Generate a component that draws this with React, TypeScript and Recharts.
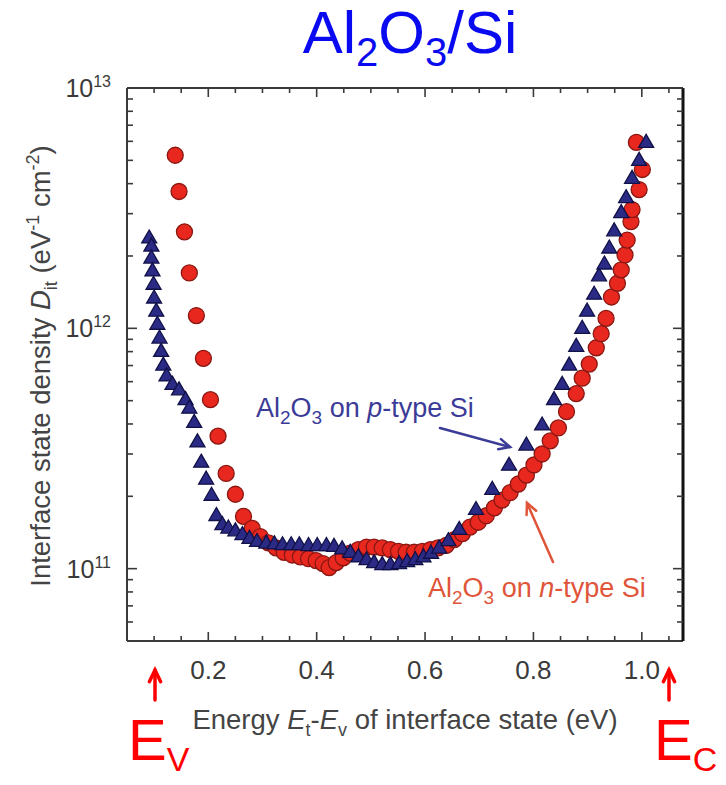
import { ScatterChart, Scatter, XAxis, YAxis } from "recharts";

// Al2O3 on p-type Si (triangles)
const pEnergy = [
  0.091, 0.095, 0.095, 0.097, 0.099, 0.1, 0.104, 0.106, 0.11, 0.113, 0.117, 0.123, 0.134, 0.146,
  0.158, 0.165, 0.174, 0.18, 0.187, 0.196, 0.206, 0.215, 0.226, 0.237, 0.25, 0.263, 0.276, 0.29,
  0.307, 0.322, 0.337, 0.353, 0.368, 0.385, 0.401, 0.418, 0.432, 0.447, 0.462, 0.477, 0.492,
  0.506, 0.521, 0.536, 0.552, 0.567, 0.582, 0.597, 0.611, 0.626, 0.643, 0.663, 0.694, 0.724,
  0.755, 0.787, 0.816, 0.838, 0.853, 0.866, 0.879, 0.89, 0.899, 0.912, 0.921, 0.931, 0.94,
  0.949, 0.962, 0.971, 0.982, 0.995, 1.008,
];
const pDit = [
  2.4e12, 2.22e12, 1.98e12, 1.75e12, 1.54e12, 1.35e12, 1.19e12, 1.05e12, 9.2e11, 8.1e11, 7.1e11,
  6.4e11, 5.9e11, 5.6e11, 5.1e11, 4.7e11, 4.1e11, 3.4e11, 2.8e11, 2.38e11, 2.04e11, 1.68e11,
  1.54e11, 1.49e11, 1.45e11, 1.4e11, 1.35e11, 1.31e11, 1.29e11, 1.28e11, 1.27e11, 1.27e11,
  1.27e11, 1.26e11, 1.26e11, 1.26e11, 1.25e11, 1.22e11, 1.18e11, 1.13e11, 1.1e11, 1.07e11,
  1.05e11, 1.05e11, 1.06e11, 1.08e11, 1.1e11, 1.13e11, 1.17e11, 1.23e11, 1.32e11, 1.47e11,
  1.78e11, 2.16e11, 2.72e11, 3.3e11, 4.0e11, 5.1e11, 5.9e11, 7.1e11, 8.5e11, 1.01e12, 1.19e12,
  1.4e12, 1.67e12, 1.87e12, 2.18e12, 2.57e12, 3.06e12, 3.53e12, 4.25e12, 5.05e12, 6.0e12,
];

// Al2O3 on n-type Si (circles)
const nEnergy = [
  0.139, 0.146, 0.156, 0.165, 0.178, 0.191, 0.204, 0.218, 0.233, 0.25, 0.265, 0.281, 0.296,
  0.311, 0.325, 0.34, 0.355, 0.37, 0.385, 0.399, 0.412, 0.423, 0.436, 0.449, 0.462, 0.477,
  0.492, 0.506, 0.521, 0.536, 0.551, 0.565, 0.58, 0.595, 0.61, 0.624, 0.639, 0.654, 0.669,
  0.683, 0.698, 0.713, 0.728, 0.742, 0.757, 0.772, 0.787, 0.801, 0.816, 0.831, 0.846, 0.861,
  0.879, 0.89, 0.903, 0.916, 0.925, 0.934, 0.944, 0.955, 0.962, 0.969, 0.973, 0.98, 0.982,
  0.995, 1.001, 0.99,
];
const nDit = [
  5.25e12, 3.71e12, 2.52e12, 1.7e12, 1.13e12, 7.5e11, 5.05e11, 3.56e11, 2.49e11, 2.04e11,
  1.65e11, 1.47e11, 1.36e11, 1.28e11, 1.22e11, 1.17e11, 1.14e11, 1.12e11, 1.1e11, 1.08e11,
  1.05e11, 1.01e11, 1.06e11, 1.11e11, 1.16e11, 1.2e11, 1.23e11, 1.23e11, 1.22e11, 1.2e11,
  1.18e11, 1.17e11, 1.17e11, 1.18e11, 1.2e11, 1.22e11, 1.25e11, 1.32e11, 1.4e11, 1.49e11,
  1.56e11, 1.66e11, 1.79e11, 1.93e11, 2.07e11, 2.25e11, 2.45e11, 2.7e11, 3.0e11, 3.4e11,
  3.85e11, 4.5e11, 5.35e11, 6.2e11, 7.1e11, 8.3e11, 9.5e11, 1.1e12, 1.35e12, 1.54e12, 1.75e12,
  2.02e12, 2.33e12, 2.78e12, 3.12e12, 3.78e12, 4.58e12, 5.94e12,
];

const xTicks = [
  0.1, 0.15, 0.2, 0.25, 0.3, 0.35, 0.4, 0.45, 0.5, 0.55, 0.6, 0.65, 0.7, 0.75, 0.8, 0.85, 0.9,
  0.95, 1.0, 1.05,
];
const xLabels = ["0.2", "0.4", "0.6", "0.8", "1.0"];
const yTicks = [
  6e10, 7e10, 8e10, 9e10, 1e11, 2e11, 3e11, 4e11, 5e11, 6e11, 7e11, 8e11, 9e11, 1e12, 2e12, 3e12,
  4e12, 5e12, 6e12, 7e12, 8e12, 9e12, 1e13,
];

const pData = pEnergy.map((x, i) => ({ x, y: pDit[i] }));
const nData = nEnergy.map((x, i) => ({ x, y: nDit[i] }));

const FONT = "'Liberation Sans', Arial, Helvetica, sans-serif";
const FRAME = "#3a3a3a";

const isXMajor = (v: number) => Math.abs(v * 5 - Math.round(v * 5)) < 1e-6;
const isDecade = (v: number) => Math.abs(Math.log10(v) - Math.round(Math.log10(v))) < 1e-6;

function XTick(props: any) {
  const { x, y, payload, side } = props;
  const v = payload.value as number;
  const major = isXMajor(v);
  const len = major ? 9 : 5;
  const dir = side === "bottom" ? -1 : 1;
  const label = xLabels.find((s) => Math.abs(parseFloat(s) - v) < 1e-6);
  return (
    <g>
      <line x1={x} y1={y} x2={x} y2={y + dir * len} stroke={FRAME} strokeWidth={1.6} />
      {side === "bottom" && label && (
        <text x={x} y={y + 38} textAnchor="middle" fontSize={26} fontFamily={FONT} fill="#3a3a3a">
          {label}
        </text>
      )}
    </g>
  );
}

function YTick(props: any) {
  const { x, y, payload, side } = props;
  const v = payload.value as number;
  const major = isDecade(v);
  const len = major ? 10 : 6;
  const dir = side === "left" ? 1 : -1;
  return (
    <g>
      <line x1={x} y1={y} x2={x + dir * len} y2={y} stroke={FRAME} strokeWidth={1.6} />
      {side === "left" && major && (
        <text x={x - 16} y={y + 9} textAnchor="end" fontSize={25} fontFamily={FONT} fill="#3a3a3a">
          10
          <tspan dy={-10} fontSize={16}>
            {Math.round(Math.log10(v))}
          </tspan>
        </text>
      )}
    </g>
  );
}

function Triangle(props: any) {
  const { cx, cy } = props;
  const w = 7.5;
  return (
    <path
      d={`M${cx},${cy - 7} L${cx + w},${cy + 6} L${cx - w},${cy + 6} Z`}
      fill="#2b2b86"
      stroke="#111148"
      strokeWidth={1.3}
    />
  );
}

function Dot(props: any) {
  const { cx, cy } = props;
  return <circle cx={cx} cy={cy} r={8} fill="#e8271f" stroke="#8a1812" strokeWidth={1.3} />;
}

function Arrow({ x1, y1, x2, y2, color, head = 12, width = 2.5 }: any) {
  const a = Math.atan2(y2 - y1, x2 - x1);
  const s = 0.45;
  const hx1 = x2 - head * Math.cos(a - s);
  const hy1 = y2 - head * Math.sin(a - s);
  const hx2 = x2 - head * Math.cos(a + s);
  const hy2 = y2 - head * Math.sin(a + s);
  return (
    <g stroke={color} strokeWidth={width} fill="none" strokeLinecap="round">
      <line x1={x1} y1={y1} x2={x2} y2={y2} />
      <polyline points={`${hx1},${hy1} ${x2},${y2} ${hx2},${hy2}`} />
    </g>
  );
}

function AlLabel({ x, y, color, type }: any) {
  return (
    <text x={x} y={y} fontSize={27} fill={color}>
      Al
      <tspan dy={7} fontSize={19}>2</tspan>
      <tspan dy={-7}>O</tspan>
      <tspan dy={7} fontSize={19}>3</tspan>
      <tspan dy={-7}> on </tspan>
      <tspan fontStyle="italic">{type}</tspan>-type Si
    </text>
  );
}

export default function App() {
  const domainX: [number, number] = [0.05, 1.076];
  const domainY: [number, number] = [5e10, 1e13];
  return (
    <div style={{ position: "absolute", left: 0, top: 0, width: 726, height: 785, background: "#fff" }}>
      <ScatterChart
        width={726}
        height={785}
        margin={{ top: 78, right: 33, bottom: 104, left: 67 }}
      >
        <XAxis
          xAxisId="b"
          type="number"
          dataKey="x"
          domain={domainX}
          allowDataOverflow
          ticks={xTicks}
          interval={0}
          orientation="bottom"
          height={40}
          tickSize={0}
          tickMargin={0}
          tickLine={false}
          axisLine={{ stroke: FRAME, strokeWidth: 2 }}
          tick={(p: any) => <XTick {...p} side="bottom" />}
        />
        <XAxis
          xAxisId="t"
          type="number"
          dataKey="x"
          domain={domainX}
          allowDataOverflow
          ticks={xTicks}
          interval={0}
          orientation="top"
          height={10}
          tickSize={0}
          tickMargin={0}
          tickLine={false}
          axisLine={{ stroke: FRAME, strokeWidth: 2 }}
          tick={(p: any) => <XTick {...p} side="top" />}
        />
        <YAxis
          yAxisId="l"
          type="number"
          dataKey="y"
          scale="log"
          domain={domainY}
          allowDataOverflow
          ticks={yTicks}
          interval={0}
          orientation="left"
          width={60}
          tickSize={0}
          tickMargin={0}
          tickLine={false}
          axisLine={{ stroke: FRAME, strokeWidth: 2 }}
          tick={(p: any) => <YTick {...p} side="left" />}
        />
        <YAxis
          yAxisId="r"
          type="number"
          dataKey="y"
          scale="log"
          domain={domainY}
          allowDataOverflow
          ticks={yTicks}
          interval={0}
          orientation="right"
          width={10}
          tickSize={0}
          tickMargin={0}
          tickLine={false}
          axisLine={{ stroke: "#111", strokeWidth: 3 }}
          tick={(p: any) => <YTick {...p} side="right" />}
        />
        <Scatter
          name="Al2O3 on n-type Si"
          data={nData}
          xAxisId="t"
          yAxisId="r"
          shape={Dot}
          isAnimationActive={false}
        />
        <Scatter
          name="Al2O3 on p-type Si"
          data={pData}
          xAxisId="b"
          yAxisId="l"
          shape={Triangle}
          isAnimationActive={false}
        />
      </ScatterChart>

      <svg
        width={726}
        height={785}
        style={{ position: "absolute", left: 0, top: 0, pointerEvents: "none" }}
        fontFamily={FONT}
      >
        {/* title */}
        <text x={410} y={53} textAnchor="middle" fontSize={60} fill="#0a0af0">
          Al
          <tspan dy={13} fontSize={40}>2</tspan>
          <tspan dy={-13}>O</tspan>
          <tspan dy={13} fontSize={40}>3</tspan>
          <tspan dy={-13}>/Si</tspan>
        </text>

        {/* y axis title */}
        <text
          x={50}
          y={366}
          transform="rotate(-90, 50, 366)"
          textAnchor="middle"
          fontSize={27.5}
          fill="#444"
        >
          Interface state density <tspan fontStyle="italic">D</tspan>
          <tspan dy={7} fontSize={18}>it</tspan>
          <tspan dy={-7}> (eV</tspan>
          <tspan dy={-11} fontSize={18}>-1</tspan>
          <tspan dy={11}> cm</tspan>
          <tspan dy={-11} fontSize={18}>-2</tspan>
          <tspan dy={11}>)</tspan>
        </text>

        {/* x axis title */}
        <text x={405} y={729} textAnchor="middle" fontSize={27.5} fill="#444">
          Energy <tspan fontStyle="italic">E</tspan>
          <tspan dy={7} fontSize={18}>t</tspan>
          <tspan dy={-7}>-</tspan>
          <tspan fontStyle="italic">E</tspan>
          <tspan dy={7} fontSize={18}>v</tspan>
          <tspan dy={-7}> of interface state (eV)</tspan>
        </text>

        {/* annotations */}
        <AlLabel x={256} y={417} color="#3b3b98" type="p" />
        <Arrow x1={440} y1={428} x2={510} y2={447} color="#3b3b98" />

        <AlLabel x={428} y={597} color="#e0553a" type="n" />
        <Arrow x1={553} y1={562} x2={527} y2={503} color="#e0553a" />

        {/* band edges */}
        <Arrow x1={155} y1={700} x2={155} y2={670} color="#ff0000" head={13} width={3.5} />
        <text x={128} y={760} fontSize={58} fill="#ff0000">
          E<tspan dy={11} fontSize={34}>V</tspan>
        </text>
        <Arrow x1={669} y1={700} x2={669} y2={670} color="#ff0000" head={13} width={3.5} />
        <text x={654} y={760} fontSize={58} fill="#ff0000">
          E<tspan dy={11} fontSize={34}>C</tspan>
        </text>
      </svg>
    </div>
  );
}
